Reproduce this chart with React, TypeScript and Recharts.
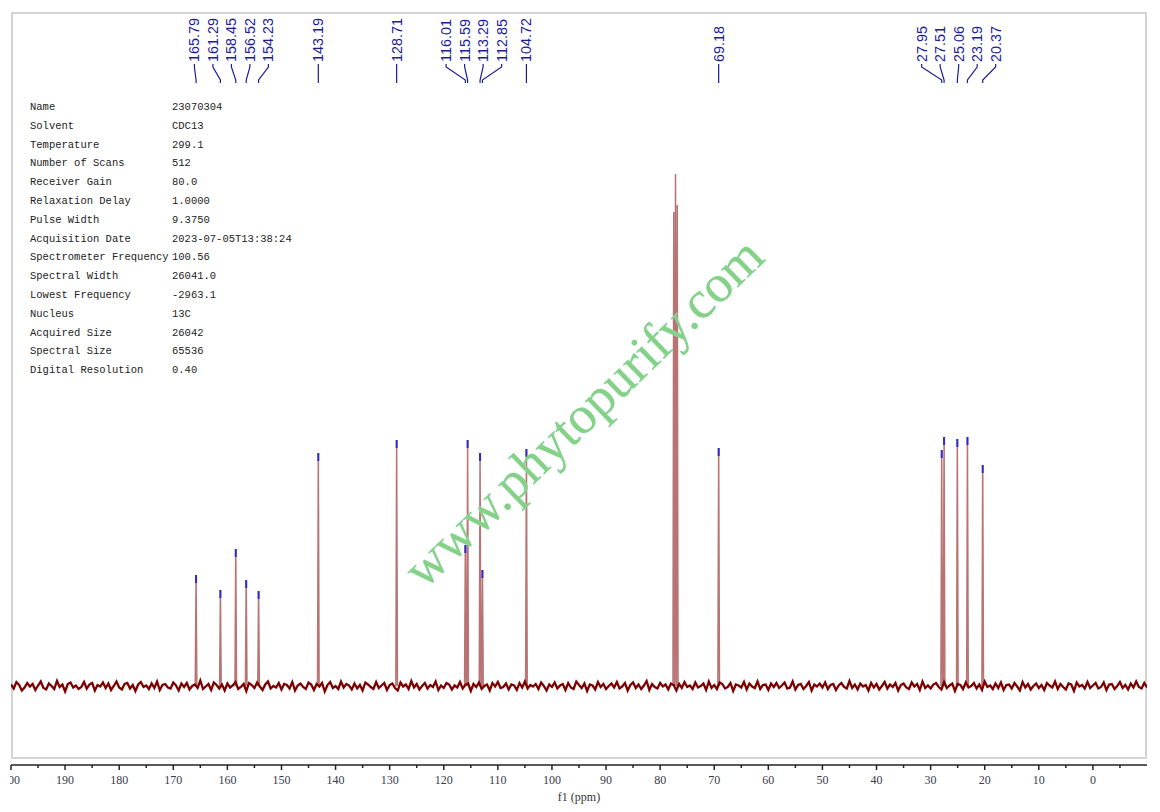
import { ComposedChart, Line, Scatter, XAxis, YAxis } from "recharts";

// 13C spectrum, CDCl3 (intensity in arbitrary units)
const peakPpm = [
  165.79, 161.29, 158.45, 156.52, 154.23, 143.19, 128.71, 116.01, 115.59,
  113.29, 112.85, 104.72, 69.18, 27.95, 27.51, 25.06, 23.19, 20.37,
];
const peakHeight = [
  22.2, 19.2, 27.4, 21.2, 19.0, 46.6, 49.2, 28.2, 49.2, 46.6, 23.2, 47.4,
  47.6, 47.2, 49.8, 49.4, 49.8, 44.2,
];
const solventPpm = [77.48, 77.16, 76.84];
const solventHeight = [94.8, 102.4, 96.2];

// baseline noise, one sample every 0.5 ppm from 200 down to -10
const noiseStart = 200;
const noiseStep = 0.5;
const baselineNoise = [
  0.3, -0.5, 0.8, 0.2, -0.9, -0.3, 0.6, -0.1, 0.4, -0.8, 0.1, 0.9, -0.4, -0.7, 0.5, 0.0, -0.6, 1.0, -0.2, 0.3,
  -1.1, 0.4, 0.7, -0.3, 0.1, -0.6, -0.2, 0.8, -0.5, 0.3, 0.6, -0.9, 0.2, -0.1, 0.7, -0.4, 0.5, -0.8, 0.0, 0.9,
  -0.3, -0.7, 0.4, 0.6, -0.5, 0.2, -1.0, 0.3, 0.8, -0.2, 0.1, -0.6, 0.5, -0.4, 0.9, -0.8, 0.2, 0.4, -0.3, -0.5,
  0.7, 0.1, -0.9, 0.5, -0.2, 0.6, -0.7, 0.0, 0.3, -0.4, 1.1, -0.6, -0.1, 0.4, -0.8, 0.7, 0.2, -0.5, 0.3, -0.9,
  0.5, -0.3, 0.1, 0.8, -0.6, -0.2, 0.4, -1.0, 0.6, 0.2, -0.4, 0.7, -0.1, -0.8, 0.3, 0.9, -0.5, 0.0, -0.3, 0.6,
  -0.7, 0.4, 0.2, -0.5, 0.8, -0.9, 0.1, 0.5, -0.2, -0.6, 0.7, 0.3, -0.8, 0.4, -0.1, 0.6, -1.1, 0.2, 0.8, -0.4,
  0.0, -0.6, 0.9, -0.3, 0.4, 0.1, -0.7, 0.5, -0.5, 0.2, -0.9, 0.7, 0.3, -0.2, -0.6, 0.8, -0.4, 0.1, 0.6, -0.8,
  0.2, 0.5, -0.4, -0.9, 0.7, -0.1, 0.3, -0.6, 1.0, -0.3, 0.4, -0.7, 0.0, 0.6, -0.5, 0.2, -0.2, 0.9, -0.8, 0.1,
  -0.4, 0.6, 0.3, -0.7, 0.1, -0.3, 0.8, -0.5, 0.2, 0.5, -1.0, 0.4, -0.2, 0.7, -0.6, 0.0, 0.3, -0.9, 0.6, -0.1,
  0.8, -0.4, -0.2, 0.5, -0.7, 0.3, 0.1, -0.8, 0.6, -0.3, 0.9, -0.5, 0.2, -0.1, 0.4, -0.6, 0.7, 0.0, -0.9, 0.3,
  -0.2, 0.7, -0.5, 0.1, 0.4, -0.8, 0.6, -0.3, -0.6, 0.9, 0.2, -0.4, 0.5, -1.0, 0.3, 0.1, -0.7, 0.8, -0.2, 0.4,
  -0.6, 0.0, 0.5, -0.3, 0.8, -0.5, -0.1, 0.6, -0.9, 0.2, 0.7, -0.4, 0.3, -0.6, 0.1, 1.0, -0.8, 0.4, -0.2, -0.5,
  0.6, -0.1, 0.3, -0.7, 0.5, 0.2, -0.9, 0.4, -0.4, 0.8, -0.2, 0.1, -0.6, 0.7, -0.3, 0.0, 0.5, -0.8, 0.9, -0.4,
  0.2, -0.6, 0.7, 0.4, -0.5, -0.2, 0.6, -1.0, 0.3, 0.1, -0.3, 0.8, -0.7, 0.5, -0.1, -0.4, 0.9, -0.6, 0.2, 0.3,
  -0.8, 0.5, -0.2, 0.6, -0.4, 0.1, 0.7, -0.5, -0.3, 0.9, -0.7, 0.2, 0.4, -0.6, 0.0, 0.8, -0.9, 0.3, -0.1, 0.5,
  -0.3, 0.7, -0.6, 0.2, 0.4, -0.8, 0.1, 0.6, -0.2, -0.5, 1.0, -0.4, 0.3, -0.7, 0.5, -0.1, 0.2, -0.9, 0.6, -0.3,
  0.4, -0.7, 0.0, 0.8, -0.5, 0.3, -0.2, 0.6, -0.9, 0.2, 0.5, -0.3, -0.6, 0.7, -0.1, 0.4, -0.8, 0.9, -0.4, 0.1,
  -0.5, 0.3, 0.6, -0.2, -0.7, 0.8, -0.4, 0.1, 0.5, -1.0, 0.4, 0.2, -0.6, 0.7, -0.3, 0.0, 0.6, -0.5, 0.3, -0.8,
  0.9, -0.2, 0.1, -0.6, 0.5, -0.4, 0.7, -0.8, 0.2, 0.3, -0.5, 0.6, -0.1, -0.9, 0.8, -0.3, 0.4, -0.7, 0.0, 0.5,
  -0.4, 0.2, -0.8, 0.6, 0.1, -0.3, 0.9, -0.6, 0.4, -0.2, -0.7, 0.5, 0.3, -1.0, 0.7, -0.1, 0.2, -0.5, 0.8, -0.4,
  0.1, 0.6, -0.5, -0.2, 0.7, -0.8, 0.3, 0.4, -0.6, 0.0, 0.8, -0.4, 0.2, -0.7, 0.5, -0.3, 0.9, -0.2, -0.5, 0.6,
  -0.3,
];

const xTicks = [
  200, 195, 190, 185, 180, 175, 170, 165, 160, 155, 150, 145, 140, 135, 130,
  125, 120, 115, 110, 105, 100, 95, 90, 85, 80, 75, 70, 65, 60, 55, 50, 45,
  40, 35, 30, 25, 20, 15, 10, 5, 0, -5,
];

const infoLabels = [
  "Name", "Solvent", "Temperature", "Number of Scans", "Receiver Gain",
  "Relaxation Delay", "Pulse Width", "Acquisition Date",
  "Spectrometer Frequency", "Spectral Width", "Lowest Frequency", "Nucleus",
  "Acquired Size", "Spectral Size", "Digital Resolution",
];
const infoValues = [
  "23070304", "CDC13", "299.1", "512", "80.0", "1.0000", "9.3750",
  "2023-07-05T13:38:24", "100.56", "26041.0", "-2963.1", "13C", "26042",
  "65536", "0.40",
];

const RED = "#7d0000";
const BLUE = "#1c1c96";
const LABEL_GAP = 3.42; // ppm between neighbouring peak labels
const LABEL_Y = 124.8;

// push overlapping labels apart, each cluster centred on its peaks
function spreadLabels(ppms: number[], gap: number) {
  let clusters = ppms.map((p) => ({ members: [p], center: p }));
  let merged = true;
  while (merged) {
    merged = false;
    for (let i = 0; i < clusters.length - 1; i++) {
      const a = clusters[i];
      const b = clusters[i + 1];
      const aLow = a.center - ((a.members.length - 1) * gap) / 2;
      const bHigh = b.center + ((b.members.length - 1) * gap) / 2;
      if (aLow - bHigh < gap) {
        const members = [...a.members, ...b.members];
        const center = members.reduce((s, v) => s + v, 0) / members.length;
        clusters.splice(i, 2, { members, center });
        merged = true;
        break;
      }
    }
  }
  return clusters.flatMap((c) =>
    c.members.map((_, k) => c.center + ((c.members.length - 1) / 2 - k) * gap)
  );
}

const labelPpm = spreadLabels(peakPpm, LABEL_GAP);

const baselineData = baselineNoise.map((y, i) => ({ x: noiseStart - i * noiseStep, y }));

const allPeaks = [
  ...peakPpm.map((p, i) => ({ p, h: peakHeight[i] })),
  ...solventPpm.map((p, i) => ({ p, h: solventHeight[i] })),
];
const peakLineData = allPeaks.flatMap(({ p, h }) => [
  { x: p + 0.15, y: 0 },
  { x: p, y: h },
  { x: p - 0.15, y: 0 },
  { x: p, y: null },
]);

const markerData = peakPpm.map((p, i) => ({ x: p, y: peakHeight[i] }));
const labelData = peakPpm.map((p, i) => ({
  x: labelPpm[i],
  y: LABEL_Y,
  label: p.toFixed(2),
}));
const connectorData = peakPpm.flatMap((p, i) => [
  { x: labelPpm[i], y: 124.4 },
  { x: labelPpm[i], y: 123.8 },
  { x: p, y: 121.2 },
  { x: p, y: 120.6 },
  { x: p, y: null },
]);

const AxisTick = (props: any) => {
  const { x, y, payload } = props;
  const major = payload.value % 10 === 0;
  return (
    <g>
      <line x1={x} x2={x} y1={y} y2={y + (major ? 5 : 3)} stroke="#222" strokeWidth={1.5} />
      {major && (
        <text
          x={x}
          y={y + 19}
          textAnchor="middle"
          fontFamily="'Liberation Serif', serif"
          fontSize={12}
          fill="#3a3a4a"
        >
          {payload.value}
        </text>
      )}
    </g>
  );
};

const Marker = (props: any) => {
  const { cx, cy } = props;
  return <rect x={cx - 1} y={cy} width={2} height={8} fill="#2a2ad0" />;
};

const PeakLabel = (props: any) => {
  const { cx, cy, payload } = props;
  return (
    <text
      x={cx}
      y={cy}
      transform={`rotate(-90 ${cx} ${cy})`}
      dominantBaseline="central"
      fontFamily="'Liberation Sans', Arial, sans-serif"
      fontSize={14.4}
      fill={BLUE}
    >
      {payload.label}
    </text>
  );
};

export default function App() {
  return (
    <div style={{ position: "absolute", left: 10, top: 0, width: 1150, height: 812, overflow: "hidden", background: "#fff" }}>
      <div style={{ position: "absolute", left: -10, top: 0, width: 1160, height: 812 }}>
        <div
          style={{
            position: "absolute",
            left: 11,
            top: 12,
            width: 1136,
            height: 747,
            border: "2px solid #d4d4d4",
            boxSizing: "border-box",
          }}
        />
        <div
          style={{
            position: "absolute",
            left: 30,
            top: 98,
            fontFamily: "'Liberation Mono', monospace",
            fontSize: 10.5,
            color: "#222",
          }}
        >
          {infoLabels.map((l, i) => (
            <div key={l} style={{ display: "flex", height: 18.8, lineHeight: "18.8px", whiteSpace: "pre" }}>
              <span style={{ width: 142 }}>{l}</span>
              <span>{infoValues[i]}</span>
            </div>
          ))}
        </div>
        <div style={{ position: "absolute", left: 0, top: 0, width: 1160, height: 812 }}>
          <ComposedChart width={1160} height={812} margin={{ top: 12, right: 13, left: 11, bottom: 17 }}>
            <XAxis
              type="number"
              dataKey="x"
              domain={[-10, 200]}
              reversed
              allowDataOverflow
              ticks={xTicks}
              interval={0}
              tickSize={0}
              tickMargin={0}
              tickLine={false}
              tick={<AxisTick />}
              axisLine={{ stroke: "#222", strokeWidth: 1.5 }}
              height={30}
              label={{
                value: "f1 (ppm)",
                position: "bottom",
                offset: -3,
                fontFamily: "'Liberation Serif', serif",
                fontSize: 12,
                fill: "#333",
              }}
            />
            <YAxis type="number" dataKey="y" hide domain={[-15.8, 134.8]} allowDataOverflow />
            <Line
              data={baselineData}
              dataKey="y"
              stroke={RED}
              strokeWidth={2.3}
              dot={false}
              activeDot={false}
              isAnimationActive={false}
            />
            <Line
              data={peakLineData}
              dataKey="y"
              stroke={RED}
              strokeOpacity={0.55}
              strokeWidth={1.5}
              dot={false}
              activeDot={false}
              isAnimationActive={false}
            />
            <Scatter data={markerData} dataKey="y" shape={<Marker />} isAnimationActive={false} />
            <Line
              data={connectorData}
              dataKey="y"
              stroke={BLUE}
              strokeWidth={1.2}
              dot={false}
              activeDot={false}
              isAnimationActive={false}
            />
            <Scatter data={labelData} dataKey="y" shape={<PeakLabel />} isAnimationActive={false} />
          </ComposedChart>
        </div>
        <div
          style={{
            position: "absolute",
            left: 583,
            top: 412,
            transform: "translate(-50%, -50%) rotate(-44deg)",
            whiteSpace: "nowrap",
            fontFamily: "'Liberation Serif', serif",
            fontSize: 53,
            color: "#86d186",
            textShadow: "0 0 1px #9fe3e3",
            pointerEvents: "none",
          }}
        >
          www.phytopurify.com
        </div>
      </div>
    </div>
  );
}
